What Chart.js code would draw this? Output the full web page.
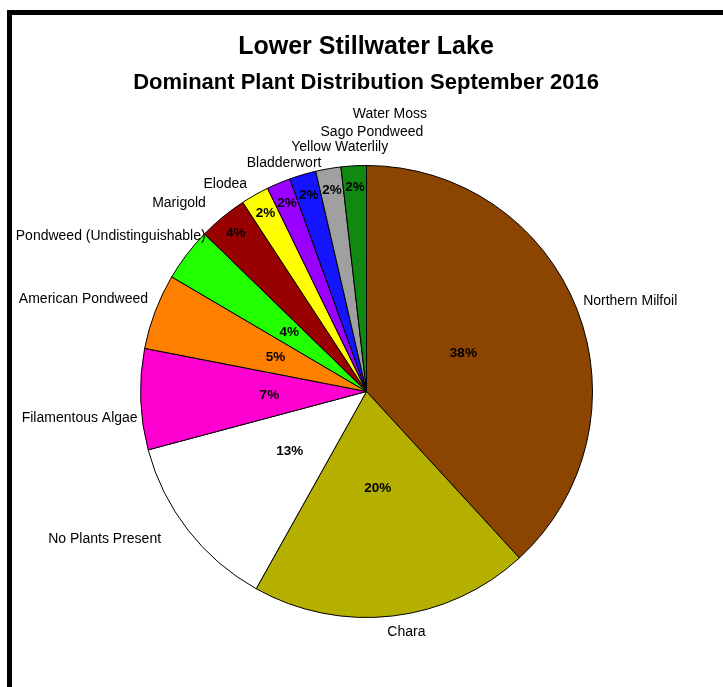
<!DOCTYPE html>
<html>
<head>
<meta charset="utf-8">
<script src="https://cdn.jsdelivr.net/npm/chart.js@4"></script>
<style>
  html, body { margin: 0; padding: 0; background: #fff; }
  #wrap { width: 723px; height: 687px; position: relative; }
</style>
</head>
<body>
<div id="wrap"><canvas id="grafica"></canvas></div>
<script>
// ==============================
// Data
// ==============================
const categories = [
  "Northern Milfoil", "Chara", "No Plants Present", "Filamentous Algae",
  "American Pondweed", "Pondweed (Undistinguishable)", "Marigold", "Elodea",
  "Bladderwort", "Yellow Waterlily", "Sago Pondweed", "Water Moss"
];
const shares = [38.1, 19.9, 12.7, 7.2, 5.4, 3.8, 3.5, 2.0, 1.7, 1.9, 1.8, 1.8];
const colores = [
  "#8b4500", "#b5b000", "#ffffff", "#ff00d0", "#ff8000", "#22ff00",
  "#990000", "#ffff00", "#9900ff", "#1414ff", "#a0a0a0", "#118811"
];

// ==============================
// Label layout (style only)
// ==============================
// fraction of radius for the percent text
const pctRadius = [0.46, 0.43, 0.43, 0.43, 0.43, 0.43, 0.91, 0.905, 0.905, 0.905, 0.905, 0.905];
// [align, dx, dy] relative to the point just outside the slice
const nudges = [
  ["left", -7, -3], ["center", 12, 2], ["right", -16, 0], ["right", 11, 18],
  ["right", 6, -7], ["right", 30, -10], ["right", -8, -3], ["right", -1, 1],
  ["center", 11, -7], ["center", 41, -14], ["center", 46, -23], ["center", 37, -38]
];

const total = shares.reduce((a, b) => a + b, 0);

// ==============================
// Frame + titles
// ==============================
const marco = {
  id: "marco",
  beforeDraw(chart) {
    const c = chart.ctx;
    c.save();
    c.fillStyle = "#fff";
    c.fillRect(0, 0, chart.width, chart.height);
    c.fillStyle = "#000";
    c.fillRect(7, 10, chart.width - 7, 5);
    c.fillRect(7, 10, 5, chart.height - 10);
    c.textAlign = "center";
    c.textBaseline = "middle";
    c.font = "bold 25px 'Liberation Sans', Arial, sans-serif";
    c.fillText("Lower Stillwater Lake", 366, 47);
    c.font = "bold 22px 'Liberation Sans', Arial, sans-serif";
    c.fillText("Dominant Plant Distribution September 2016", 366, 83);
    c.restore();
  }
};

// ==============================
// Slice labels
// ==============================
const etiquetas = {
  id: "etiquetas",
  afterDatasetsDraw(chart) {
    const c = chart.ctx;
    const meta = chart.getDatasetMeta(0);
    c.save();
    c.fillStyle = "#000";
    c.textBaseline = "middle";
    meta.data.forEach((arc, i) => {
      const p = arc.getProps(["x", "y", "startAngle", "endAngle", "outerRadius"], true);
      const mid = (p.startAngle + p.endAngle) / 2;
      // percent
      const rp = p.outerRadius * pctRadius[i];
      c.font = "bold 13.5px 'Liberation Sans', Arial, sans-serif";
      c.textAlign = "center";
      c.fillText(Math.round(shares[i] / total * 100) + "%",
        p.x + Math.cos(mid) * rp, p.y + Math.sin(mid) * rp);
      // name
      const ro = p.outerRadius + 14;
      const n = nudges[i];
      c.font = "14px 'Liberation Sans', Arial, sans-serif";
      c.textAlign = n[0];
      c.fillText(categories[i],
        p.x + Math.cos(mid) * ro + n[1], p.y + Math.sin(mid) * ro + n[2]);
    });
    c.restore();
  }
};

// ==============================
// Chart
// ==============================
const ctx = document.getElementById("grafica").getContext("2d");
new Chart(ctx, {
  type: "pie",
  data: {
    labels: categories,
    datasets: [{
      data: shares,
      backgroundColor: colores,
      borderColor: "#000",
      borderWidth: 1
    }]
  },
  options: {
    responsive: true,
    maintainAspectRatio: false,
    animation: false,
    layout: { padding: { left: 140, right: 130, top: 165, bottom: 69 } },
    plugins: {
      legend: { display: false },
      tooltip: { enabled: false },
      title: { display: false }
    }
  },
  plugins: [marco, etiquetas]
});
</script>
</body>
</html>
